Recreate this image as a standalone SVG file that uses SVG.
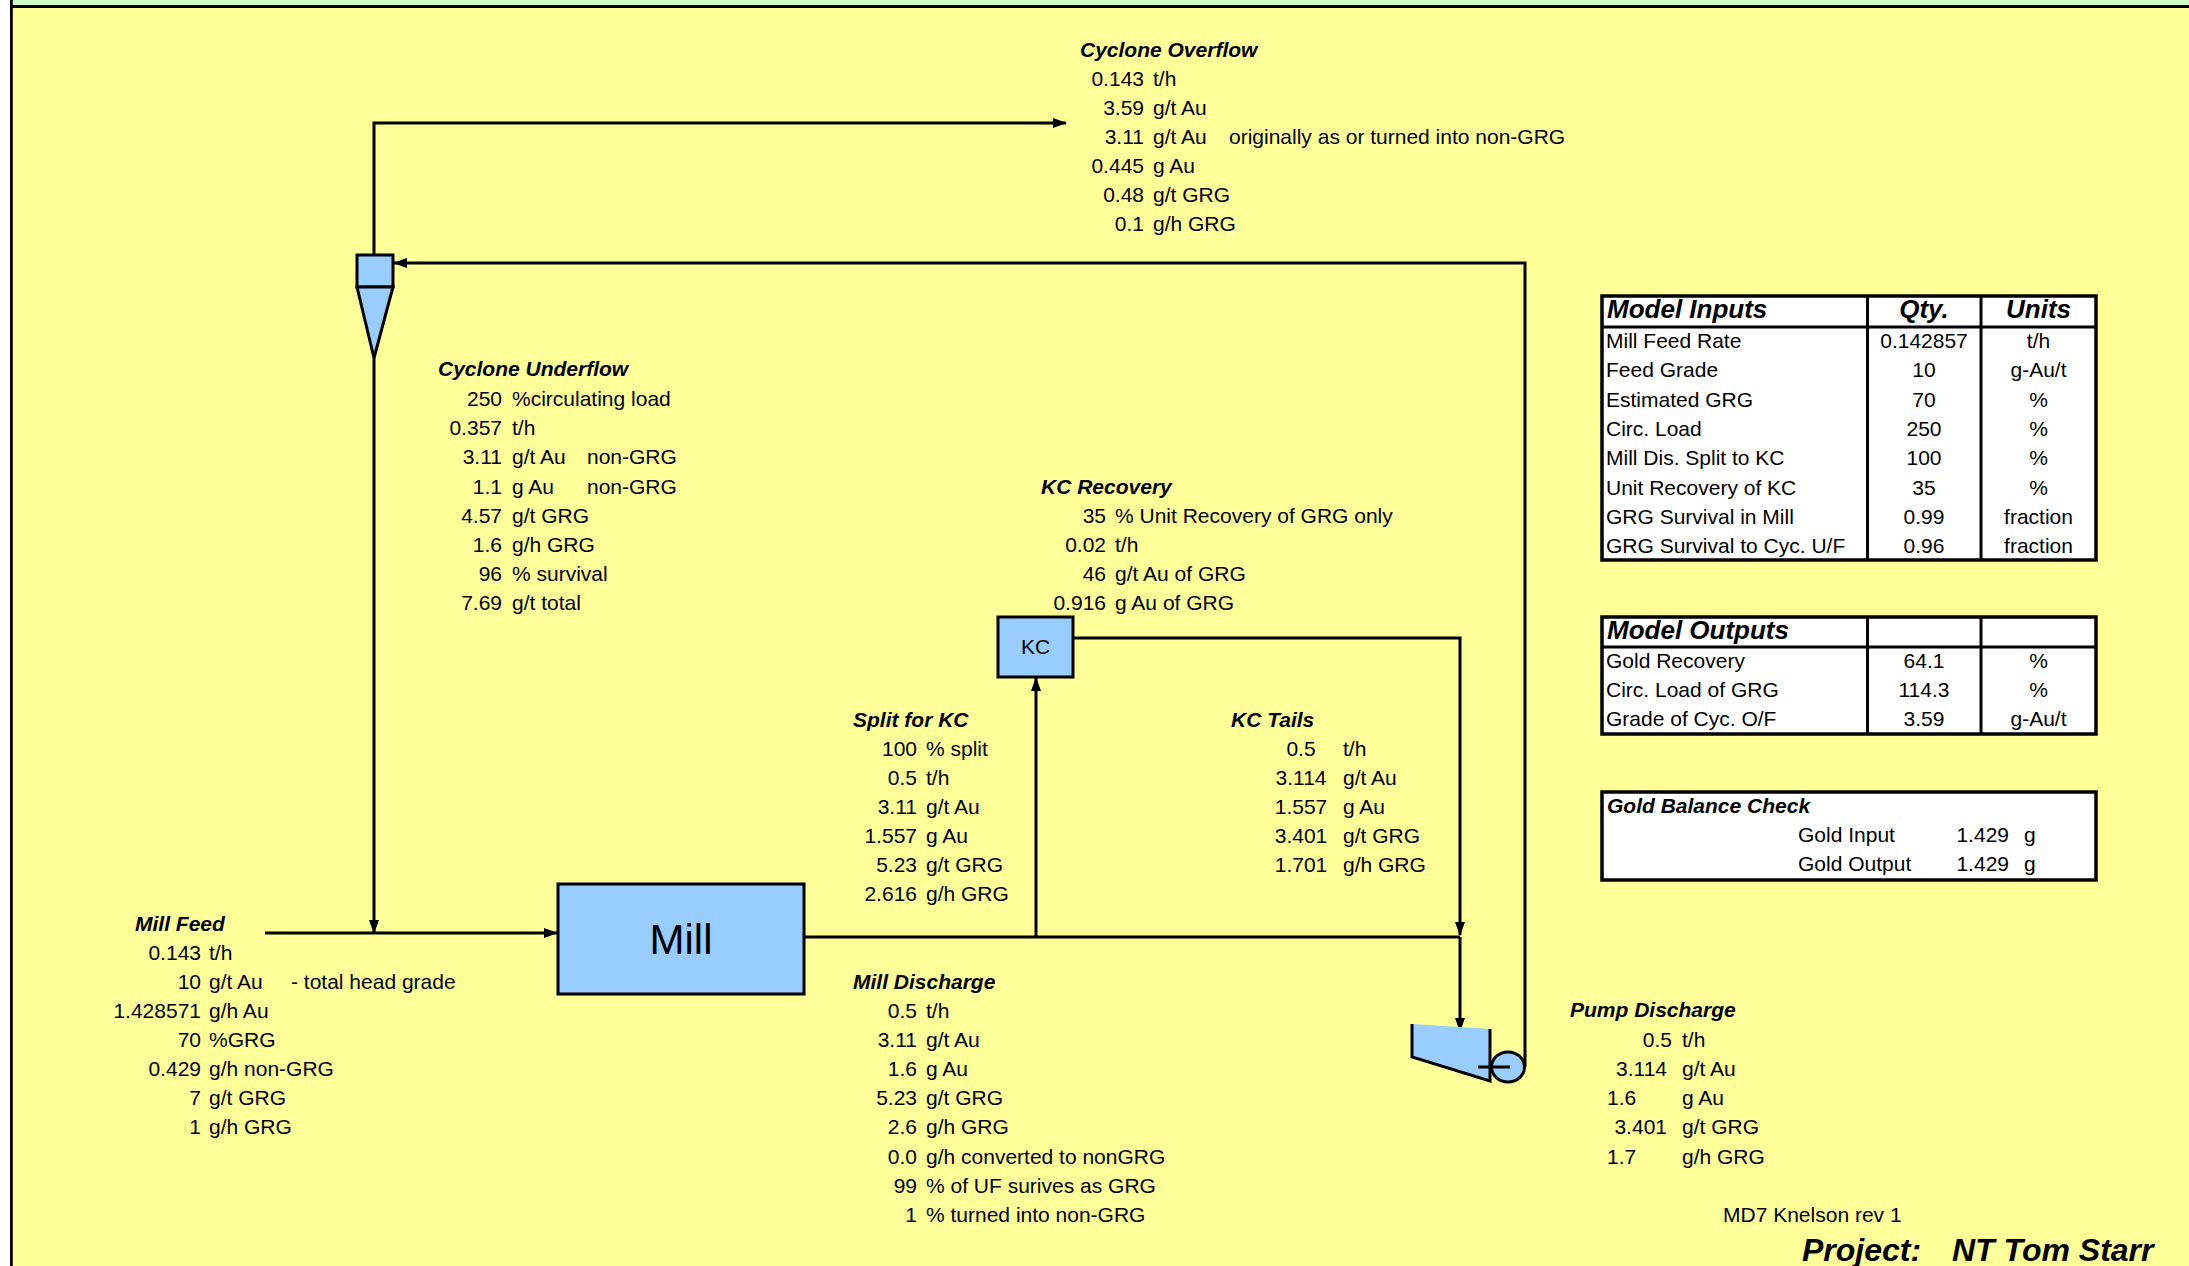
<svg xmlns="http://www.w3.org/2000/svg" width="2189" height="1266" viewBox="0 0 2189 1266">
<defs>
<style>
text{font-family:"Liberation Sans",Arial,sans-serif;font-size:21px;fill:#000}
.h{font-weight:bold;font-style:italic}
.r{text-anchor:end}
.m{text-anchor:middle}
.big{font-size:26px}
.proj{font-size:32px;font-weight:bold;font-style:italic}
.ln{fill:none;stroke:#000;stroke-width:3}
.eq{fill:#99CCFF;stroke:#000;stroke-width:3}
.tb{fill:#fff;stroke:#000;stroke-width:3.5}
.tl{stroke:#000;stroke-width:3}
</style>
<marker id="ah" viewBox="0 0 14 10" refX="13" refY="5" markerWidth="14" markerHeight="10" markerUnits="userSpaceOnUse" orient="auto">
<path d="M0,0 L14,5 L0,10 z" fill="#000"/>
</marker>
</defs>

<g id="background">
<rect x="0" y="0" width="2189" height="1266" fill="#FFFFFF"/>
<rect x="10" y="0" width="2179" height="1266" fill="#FFFF99"/>
<rect x="10" y="0" width="2179" height="5" fill="#CCFFCC"/>
<line x1="10" y1="6.5" x2="2189" y2="6.5" stroke="#000" stroke-width="3"/>
<line x1="11.4" y1="0" x2="11.4" y2="1266" stroke="#000" stroke-width="2.8"/>
</g>

<g id="connectors">
<path class="ln" d="M374,255 V123 H1066" marker-end="url(#ah)"/>
<path class="ln" d="M1525,1067 V263 H394" marker-end="url(#ah)"/>
<path class="ln" d="M374,358 V933" marker-end="url(#ah)"/>
<path class="ln" d="M265,933 H557" marker-end="url(#ah)"/>
<path class="ln" d="M804,937 H1460"/>
<path class="ln" d="M1036,937 V678" marker-end="url(#ah)"/>
<path class="ln" d="M1073,638 H1460 V935" marker-end="url(#ah)"/>
<path class="ln" d="M1460,937 V1031" marker-end="url(#ah)"/>
</g>

<g id="cyclone">
<rect class="eq" x="357" y="255" width="36" height="32"/>
<polygon class="eq" points="357,287 393,287 374,358"/>
</g>

<g id="mill">
<rect class="eq" x="558" y="884" width="246" height="110"/>
<text x="681" y="954" class="m" style="font-size:42px">Mill</text>
</g>

<g id="kc">
<rect class="eq" x="998" y="617" width="75" height="60"/>
<text x="1035.5" y="654" class="m">KC</text>
</g>

<g id="pump">
<polygon points="1412,1024 1490,1029 1490,1081 1412,1057" fill="#99CCFF"/>
<path class="ln" d="M1412,1024 V1057 L1490,1081 V1029"/>
<ellipse class="eq" cx="1508" cy="1067" rx="16.5" ry="15"/>
<line class="tl" x1="1478" y1="1067" x2="1510" y2="1067"/>
</g>

<g id="cyclone-overflow">
<text x="1080" y="57" class="h">Cyclone Overflow</text>
<text x="1144" y="86" class="r">0.143</text><text x="1153" y="86">t/h</text>
<text x="1144" y="115" class="r">3.59</text><text x="1153" y="115">g/t Au</text>
<text x="1144" y="144" class="r">3.11</text><text x="1153" y="144">g/t Au</text><text x="1229" y="144">originally as or turned into non-GRG</text>
<text x="1144" y="173" class="r">0.445</text><text x="1153" y="173">g Au</text>
<text x="1144" y="202" class="r">0.48</text><text x="1153" y="202">g/t GRG</text>
<text x="1144" y="231" class="r">0.1</text><text x="1153" y="231">g/h GRG</text>
</g>

<g id="cyclone-underflow">
<text x="438" y="376" class="h">Cyclone Underflow</text>
<text x="502" y="406" class="r">250</text><text x="512" y="406">%circulating load</text>
<text x="502" y="435" class="r">0.357</text><text x="512" y="435">t/h</text>
<text x="502" y="464" class="r">3.11</text><text x="512" y="464">g/t Au</text><text x="587" y="464">non-GRG</text>
<text x="502" y="494" class="r">1.1</text><text x="512" y="494">g Au</text><text x="587" y="494">non-GRG</text>
<text x="502" y="523" class="r">4.57</text><text x="512" y="523">g/t GRG</text>
<text x="502" y="552" class="r">1.6</text><text x="512" y="552">g/h GRG</text>
<text x="502" y="581" class="r">96</text><text x="512" y="581">% survival</text>
<text x="502" y="610" class="r">7.69</text><text x="512" y="610">g/t total</text>
</g>

<g id="kc-recovery">
<text x="1041" y="494" class="h">KC Recovery</text>
<text x="1106" y="523" class="r">35</text><text x="1115" y="523">% Unit Recovery of GRG only</text>
<text x="1106" y="552" class="r">0.02</text><text x="1115" y="552">t/h</text>
<text x="1106" y="581" class="r">46</text><text x="1115" y="581">g/t Au of GRG</text>
<text x="1106" y="610" class="r">0.916</text><text x="1115" y="610">g Au of GRG</text>
</g>

<g id="split-for-kc">
<text x="853" y="727" class="h">Split for KC</text>
<text x="917" y="756" class="r">100</text><text x="926" y="756">% split</text>
<text x="917" y="785" class="r">0.5</text><text x="926" y="785">t/h</text>
<text x="917" y="814" class="r">3.11</text><text x="926" y="814">g/t Au</text>
<text x="917" y="843" class="r">1.557</text><text x="926" y="843">g Au</text>
<text x="917" y="872" class="r">5.23</text><text x="926" y="872">g/t GRG</text>
<text x="917" y="901" class="r">2.616</text><text x="926" y="901">g/h GRG</text>
</g>

<g id="kc-tails">
<text x="1231" y="727" class="h">KC Tails</text>
<text x="1301" y="756" class="m">0.5</text><text x="1343" y="756">t/h</text>
<text x="1301" y="785" class="m">3.114</text><text x="1343" y="785">g/t Au</text>
<text x="1301" y="814" class="m">1.557</text><text x="1343" y="814">g Au</text>
<text x="1301" y="843" class="m">3.401</text><text x="1343" y="843">g/t GRG</text>
<text x="1301" y="872" class="m">1.701</text><text x="1343" y="872">g/h GRG</text>
</g>

<g id="mill-feed">
<text x="135" y="931" class="h">Mill Feed</text>
<text x="201" y="960" class="r">0.143</text><text x="209" y="960">t/h</text>
<text x="201" y="989" class="r">10</text><text x="209" y="989">g/t Au</text><text x="291" y="989">- total head grade</text>
<text x="201" y="1018" class="r">1.428571</text><text x="209" y="1018">g/h Au</text>
<text x="201" y="1047" class="r">70</text><text x="209" y="1047">%GRG</text>
<text x="201" y="1076" class="r">0.429</text><text x="209" y="1076">g/h non-GRG</text>
<text x="201" y="1105" class="r">7</text><text x="209" y="1105">g/t GRG</text>
<text x="201" y="1134" class="r">1</text><text x="209" y="1134">g/h GRG</text>
</g>

<g id="mill-discharge">
<text x="853" y="989" class="h">Mill Discharge</text>
<text x="917" y="1018" class="r">0.5</text><text x="926" y="1018">t/h</text>
<text x="917" y="1047" class="r">3.11</text><text x="926" y="1047">g/t Au</text>
<text x="917" y="1076" class="r">1.6</text><text x="926" y="1076">g Au</text>
<text x="917" y="1105" class="r">5.23</text><text x="926" y="1105">g/t GRG</text>
<text x="917" y="1134" class="r">2.6</text><text x="926" y="1134">g/h GRG</text>
<text x="917" y="1164" class="r">0.0</text><text x="926" y="1164">g/h converted to nonGRG</text>
<text x="917" y="1193" class="r">99</text><text x="926" y="1193">% of UF surives as GRG</text>
<text x="917" y="1222" class="r">1</text><text x="926" y="1222">% turned into non-GRG</text>
</g>

<g id="pump-discharge">
<text x="1570" y="1017" class="h">Pump Discharge</text>
<text x="1672" y="1047" class="r">0.5</text><text x="1682" y="1047">t/h</text>
<text x="1667" y="1076" class="r">3.114</text><text x="1682" y="1076">g/t Au</text>
<text x="1607" y="1105">1.6</text><text x="1682" y="1105">g Au</text>
<text x="1667" y="1134" class="r">3.401</text><text x="1682" y="1134">g/t GRG</text>
<text x="1607" y="1164">1.7</text><text x="1682" y="1164">g/h GRG</text>
</g>

<g id="model-inputs">
<rect class="tb" x="1602" y="296" width="494" height="264"/>
<line class="tl" x1="1602" y1="327" x2="2096" y2="327"/>
<line class="tl" x1="1867.5" y1="296" x2="1867.5" y2="560"/>
<line class="tl" x1="1981" y1="296" x2="1981" y2="560"/>
<text x="1607" y="318" class="h big">Model Inputs</text>
<text x="1924" y="318" class="h big m">Qty.</text>
<text x="2038.5" y="318" class="h big m">Units</text>
<text x="1606" y="348">Mill Feed Rate</text><text x="1924" y="348" class="m">0.142857</text><text x="2038.5" y="348" class="m">t/h</text>
<text x="1606" y="377">Feed Grade</text><text x="1924" y="377" class="m">10</text><text x="2038.5" y="377" class="m">g-Au/t</text>
<text x="1606" y="406.5">Estimated GRG</text><text x="1924" y="406.5" class="m">70</text><text x="2038.5" y="406.5" class="m">%</text>
<text x="1606" y="436">Circ. Load</text><text x="1924" y="436" class="m">250</text><text x="2038.5" y="436" class="m">%</text>
<text x="1606" y="465">Mill Dis. Split to KC</text><text x="1924" y="465" class="m">100</text><text x="2038.5" y="465" class="m">%</text>
<text x="1606" y="494.5">Unit Recovery of KC</text><text x="1924" y="494.5" class="m">35</text><text x="2038.5" y="494.5" class="m">%</text>
<text x="1606" y="524">GRG Survival in Mill</text><text x="1924" y="524" class="m">0.99</text><text x="2038.5" y="524" class="m">fraction</text>
<text x="1606" y="553">GRG Survival to Cyc. U/F</text><text x="1924" y="553" class="m">0.96</text><text x="2038.5" y="553" class="m">fraction</text>
</g>

<g id="model-outputs">
<rect class="tb" x="1602" y="617" width="494" height="117"/>
<line class="tl" x1="1602" y1="647" x2="2096" y2="647"/>
<line class="tl" x1="1867.5" y1="617" x2="1867.5" y2="734"/>
<line class="tl" x1="1981" y1="617" x2="1981" y2="734"/>
<text x="1607" y="639" class="h big">Model Outputs</text>
<text x="1606" y="668">Gold Recovery</text><text x="1924" y="668" class="m">64.1</text><text x="2038.5" y="668" class="m">%</text>
<text x="1606" y="697">Circ. Load of GRG</text><text x="1924" y="697" class="m">114.3</text><text x="2038.5" y="697" class="m">%</text>
<text x="1606" y="726">Grade of Cyc. O/F</text><text x="1924" y="726" class="m">3.59</text><text x="2038.5" y="726" class="m">g-Au/t</text>
</g>

<g id="gold-balance">
<rect class="tb" x="1602" y="792" width="494" height="88"/>
<text x="1607" y="813" class="h">Gold Balance Check</text>
<text x="1798" y="842">Gold Input</text><text x="2009" y="842" class="r">1.429</text><text x="2024" y="842">g</text>
<text x="1798" y="871">Gold Output</text><text x="2009" y="871" class="r">1.429</text><text x="2024" y="871">g</text>
</g>

<g id="footer">
<text x="1723" y="1222">MD7 Knelson rev 1</text>
<text x="1802" y="1261" class="proj">Project:</text>
<text x="1952" y="1261" class="proj">NT Tom Starr</text>
</g>
</svg>
